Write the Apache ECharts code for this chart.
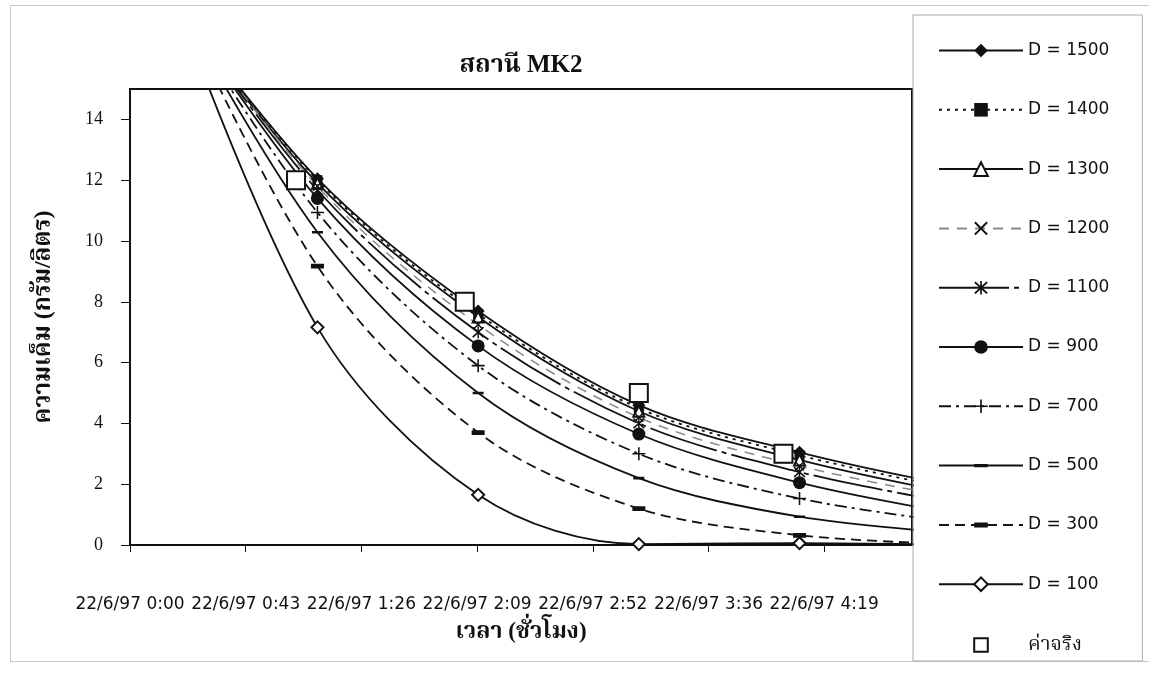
<!DOCTYPE html>
<html>
<head>
<meta charset="utf-8">
<title>สถานี MK2</title>
<script src="https://cdn.jsdelivr.net/npm/echarts@6/dist/echarts.min.js"></script>
<style>
  html, body { margin: 0; padding: 0; background: #fff; }
  #chart { width: 1149px; height: 674px; }
</style>
</head>
<body>
<div id="chart"></div>
<script>
// Time axis is in minutes after 22/6/97 0:00; ticks every 43.2 min (0.03 day)
const timeTicks = ['22/6/97 0:00', '22/6/97 0:43', '22/6/97 1:26', '22/6/97 2:09',
                   '22/6/97 2:52', '22/6/97 3:36', '22/6/97 4:19'];
const tickStep = 43.2;

// Model output times (minutes)
const modelTimes = [10, 70, 130, 190, 250, 310];

// Salinity (g/L) computed for each dispersion coefficient D
const d1500 = [18.6, 12.05, 7.70, 4.60, 3.05, 1.90];
const d1400 = [18.6, 12.00, 7.60, 4.50, 2.95, 1.80];
const d1300 = [18.6, 11.90, 7.50, 4.40, 2.80, 1.66];
const d1200 = [18.7, 11.80, 7.25, 4.20, 2.60, 1.52];
const d1100 = [18.7, 11.67, 7.00, 4.00, 2.40, 1.34];
const d900  = [18.8, 11.40, 6.55, 3.65, 2.05, 1.00];
const d700  = [18.9, 10.94, 5.90, 3.00, 1.53, 0.72];
const d500  = [19.1, 10.29, 5.00, 2.20, 0.93, 0.38];
const d300  = [19.4, 9.17, 3.70, 1.20, 0.32, 0.02];
const d100  = [19.6, 7.16, 1.65, 0.03, 0.06, 0.00];

// Measured salinity
const obsName   = 'ค่าจริง';
const obsTimes  = [62, 125, 190, 244];
const obsValues = [12.0, 8.0, 5.0, 3.0];

const pair = (xs, ys) => xs.map((x, i) => [x, ys[i]]);

const INK = '#111';
const SERIF = '"Liberation Serif", "Times New Roman", "Noto Serif Thai", "Noto Sans Thai", Garuda, Loma, serif';
const SANS = '"DejaVu Sans", "Liberation Sans", "Noto Sans Thai", Garuda, sans-serif';

// Marker shapes (bars carry invisible corner points so they stay flat inside a square box)
const X_PATH = 'path://M2,0 L10,8 L18,0 L20,2 L12,10 L20,18 L18,20 L10,12 L2,20 L0,18 L8,10 L0,2 Z';
const STAR_PATH = 'path://M2,0 L10,8 L18,0 L20,2 L12,10 L20,18 L18,20 L10,12 L2,20 L0,18 L8,10 L0,2 Z M8.8,-1 H11.2 V21 H8.8 Z';
const PLUS_PATH = 'path://M8.8,0 H11.2 V8.8 H20 V11.2 H11.2 V20 H8.8 V11.2 H0 V8.8 H8.8 Z';
const BAR_PATH = 'path://M0,0 L0.01,0 Z M0,4.6 H12 V7.4 H0 Z M12,12 L11.99,12 Z';
const THICK_BAR_PATH = 'path://M0,0 L0.01,0 Z M0,3.8 H12 V8.2 H0 Z M12,12 L11.99,12 Z';

function model(name, values, symbol, size, lineType, lineColor, width) {
  return {
    name: name,
    type: 'line',
    data: pair(modelTimes, values),
    smooth: 0.33,
    clip: true,
    symbol: symbol,
    symbolSize: size,
    showSymbol: true,
    itemStyle: { color: INK },
    lineStyle: { color: lineColor || INK, width: width || 1.8, type: lineType || 'solid' },
    emphasis: { disabled: true },
    z: 3
  };
}

const series = [
  model('D = 1500', d1500, 'diamond', 13),
  model('D = 1400', d1400, 'rect', 10, [3, 5]),
  model('D = 1300', d1300, 'emptyTriangle', 11),
  model('D = 1200', d1200, X_PATH, 10, [10, 8], '#8a8a8a', 1.5),
  model('D = 1100', d1100, STAR_PATH, 12, [70, 5, 5, 5]),
  model('D = 900', d900, 'circle', 13),
  model('D = 700', d700, PLUS_PATH, 13, [12, 5, 3, 5]),
  model('D = 500', d500, BAR_PATH, 11),
  model('D = 300', d300, THICK_BAR_PATH, 13, [10, 6]),
  model('D = 100', d100, 'emptyDiamond', 12),
  {
    name: obsName,
    type: 'line',
    data: pair(obsTimes, obsValues),
    symbol: 'emptyRect',
    symbolSize: 18,
    itemStyle: { color: INK },
    lineStyle: { opacity: 0, width: 0 },
    emphasis: { disabled: true },
    z: 5
  }
];

const chart = echarts.init(document.getElementById('chart'), null, { renderer: 'canvas' });

chart.setOption({
  animation: false,
  backgroundColor: '#fff',
  grid: {
    left: 130, right: 237, top: 89, bottom: 129,
    show: true, borderColor: INK, borderWidth: 2, backgroundColor: 'transparent'
  },
  xAxis: {
    type: 'value',
    min: 0, max: 292, interval: tickStep,
    name: 'เวลา (ชั่วโมง)',
    nameLocation: 'middle', nameGap: 76,
    nameTextStyle: { fontFamily: SERIF, fontSize: 23, fontWeight: 'bold', color: INK },
    axisLine: { show: true, lineStyle: { color: INK, width: 2 } },
    axisTick: { show: true, length: 7, lineStyle: { color: INK, width: 1 } },
    splitLine: { show: false },
    axisLabel: {
      margin: 51, showMaxLabel: false,
      fontFamily: SANS, fontSize: 17, color: INK,
      formatter: v => {
        const i = Math.round(v / tickStep);
        return Math.abs(i * tickStep - v) < 1e-6 ? (timeTicks[i] || '') : '';
      }
    }
  },
  yAxis: {
    type: 'value',
    min: 0, max: 15, interval: 2,
    name: 'ความเค็ม (กรัม/ลิตร)',
    nameLocation: 'middle', nameGap: 74, nameRotate: 90,
    nameTextStyle: { fontFamily: SERIF, fontSize: 24, fontWeight: 'bold', color: INK },
    axisLine: { show: true, lineStyle: { color: INK, width: 2 } },
    axisTick: { show: true, length: 9, lineStyle: { color: INK, width: 1 } },
    splitLine: { show: false },
    axisLabel: { margin: 27, showMaxLabel: false, fontFamily: SERIF, fontSize: 18, color: INK }
  },
  legend: {
    orient: 'vertical',
    left: 913, top: 15,
    padding: [27, 33, 6, 25],
    itemWidth: 84, itemHeight: 17, itemGap: 42.3,
    borderColor: '#aaa', borderWidth: 1,
    selectedMode: false,
    formatter: name => name === obsName ? '{th|' + name + '}' : name,
    textStyle: {
      fontFamily: SANS, fontSize: 17, color: INK, lineHeight: 17,
      rich: { th: { fontFamily: SERIF, fontSize: 20, color: INK, lineHeight: 17 } }
    },
    data: series.map(s => s.name)
  },
  graphic: [
    {
      type: 'rect', silent: true, z: -1,
      shape: { x: 10.5, y: 5.5, width: 1150, height: 656 },
      style: { fill: 'none', stroke: '#c8c8c8', lineWidth: 1 }
    },
    {
      type: 'text', silent: true,
      x: 521, y: 66,
      style: {
        text: 'สถานี MK2', align: 'center', verticalAlign: 'middle',
        font: 'bold 25px ' + SERIF, fill: INK
      }
    }
  ],
  series: series
});
</script>
</body>
</html>
